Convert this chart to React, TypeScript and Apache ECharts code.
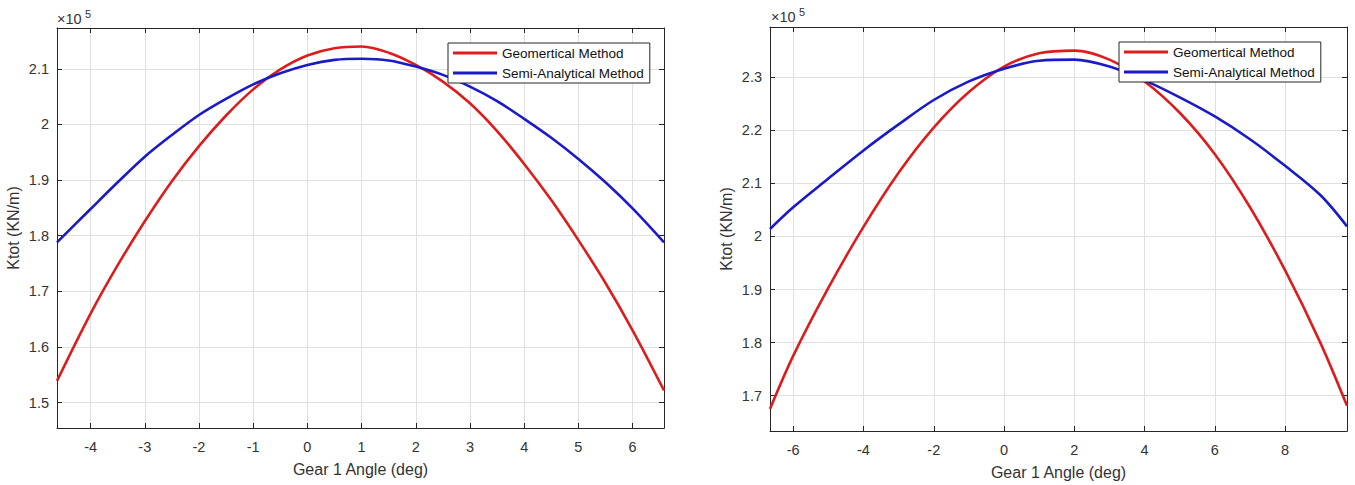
import React, { useEffect, useRef } from "react";
import * as echarts from "echarts";

// Values of Ktot are in units of 10^5 KN/m (as labelled on the axes)
const angleLeft = [-4.62, -4, -3.5, -3, -2.5, -2, -1.5, -1, -0.5, 0, 0.5, 1, 1.5, 2, 2.5, 3, 3.5, 4, 4.5, 5, 5.5, 6, 6.58];
const geomLeft = [1.539, 1.66, 1.747, 1.826, 1.898, 1.961, 2.016, 2.063, 2.099, 2.124, 2.137, 2.14, 2.129, 2.107, 2.077, 2.038, 1.988, 1.929, 1.864, 1.792, 1.715, 1.63, 1.522];
const semiLeft = [1.788, 1.848, 1.896, 1.942, 1.981, 2.017, 2.046, 2.072, 2.092, 2.107, 2.116, 2.118, 2.115, 2.104, 2.089, 2.068, 2.042, 2.01, 1.976, 1.938, 1.896, 1.849, 1.788];

const angleRight = [-6.66, -6, -5, -4, -3, -2, -1, 0, 1, 2, 3, 4, 5, 6, 7, 8, 9, 9.76];
const geomRight = [1.675, 1.775, 1.903, 2.018, 2.12, 2.205, 2.272, 2.32, 2.345, 2.35, 2.333, 2.292, 2.233, 2.155, 2.055, 1.936, 1.8, 1.681];
const semiRight = [2.014, 2.055, 2.109, 2.162, 2.211, 2.257, 2.292, 2.316, 2.331, 2.333, 2.32, 2.294, 2.262, 2.226, 2.183, 2.133, 2.078, 2.019];

const seriesNames = ["Geomertical Method", "Semi-Analytical Method"];
const xTitle = "Gear 1 Angle (deg)";
const yTitle = "Ktot (KN/m)";
const exponentBase = "\u00d710";
const exponentPower = "5";

const AXIS_COLOR = "#262626";
const LABEL_COLOR = "#333333";
const GRID_COLOR = "#e0e0e0";
const RED = "#dd1c1c";
const BLUE = "#1a1ac8";
const FONT = "'Liberation Sans', Arial, Helvetica, sans-serif";

const pairs = (xs: number[], ys: number[]) => xs.map((x, i) => [x, ys[i]]);

function xAxisBottom(gridIndex: number, min: number, max: number, splitNumber: number) {
  return {
    type: "value",
    gridIndex,
    position: "bottom",
    min,
    max,
    splitNumber,
    name: xTitle,
    nameLocation: "middle",
    nameGap: 33,
    nameTextStyle: { fontFamily: FONT, fontSize: 16, color: LABEL_COLOR },
    axisLine: { show: true, onZero: false, lineStyle: { color: AXIS_COLOR, width: 1 } },
    axisTick: { show: true, inside: true, length: 5, lineStyle: { color: AXIS_COLOR } },
    axisLabel: {
      fontFamily: FONT,
      fontSize: 14.5,
      color: LABEL_COLOR,
      margin: 11,
      showMinLabel: false,
      showMaxLabel: false,
    },
    splitLine: { show: true, lineStyle: { color: GRID_COLOR, width: 1 } },
  };
}

function xAxisTop(gridIndex: number, min: number, max: number, splitNumber: number) {
  return {
    type: "value",
    gridIndex,
    position: "top",
    min,
    max,
    splitNumber,
    axisLine: { show: true, onZero: false, lineStyle: { color: AXIS_COLOR, width: 1 } },
    axisTick: { show: true, inside: true, length: 5, lineStyle: { color: AXIS_COLOR } },
    axisLabel: { show: false },
    splitLine: { show: false },
  };
}

function yAxisLeft(gridIndex: number, min: number, max: number, splitNumber: number) {
  return {
    type: "value",
    gridIndex,
    position: "left",
    min,
    max,
    splitNumber,
    name: yTitle,
    nameLocation: "middle",
    nameGap: 36,
    nameRotate: 90,
    nameTextStyle: { fontFamily: FONT, fontSize: 16, color: LABEL_COLOR },
    axisLine: { show: true, onZero: false, lineStyle: { color: AXIS_COLOR, width: 1 } },
    axisTick: { show: true, inside: true, length: 5, lineStyle: { color: AXIS_COLOR } },
    axisLabel: {
      fontFamily: FONT,
      fontSize: 14.5,
      color: LABEL_COLOR,
      margin: 8,
      showMinLabel: false,
      showMaxLabel: false,
    },
    splitLine: { show: true, lineStyle: { color: GRID_COLOR, width: 1 } },
  };
}

function yAxisRight(gridIndex: number, min: number, max: number, splitNumber: number) {
  return {
    type: "value",
    gridIndex,
    position: "right",
    min,
    max,
    splitNumber,
    axisLine: { show: true, onZero: false, lineStyle: { color: AXIS_COLOR, width: 1 } },
    axisTick: { show: true, inside: true, length: 5, lineStyle: { color: AXIS_COLOR } },
    axisLabel: { show: false },
    splitLine: { show: false },
  };
}

function legendAt(left: number, top: number) {
  return {
    orient: "vertical",
    left,
    top,
    data: seriesNames,
    selectedMode: false,
    icon: "rect",
    itemWidth: 44,
    itemHeight: 3,
    itemGap: 6,
    padding: [3, 6, 3, 5],
    borderColor: AXIS_COLOR,
    borderWidth: 1,
    borderRadius: 0,
    backgroundColor: "#ffffff",
    textStyle: { fontFamily: FONT, fontSize: 13.5, color: "#111111" },
  };
}

function lineSeries(name: string, color: string, idx: number, xs: number[], ys: number[]) {
  return {
    type: "line",
    name,
    xAxisIndex: idx,
    yAxisIndex: idx,
    data: pairs(xs, ys),
    smooth: 0.33,
    symbol: "none",
    lineStyle: { color, width: 2.6 },
    itemStyle: { color },
    z: 3,
  };
}

function exponentLabel(x: number, y: number) {
  return [
    {
      type: "text",
      x,
      y,
      style: {
        text: exponentBase,
        fontFamily: FONT,
        fontSize: 14.5,
        fill: LABEL_COLOR,
        verticalAlign: "middle",
        align: "left",
      },
    },
    {
      type: "text",
      x: x + 28,
      y: y - 5,
      style: {
        text: exponentPower,
        fontFamily: FONT,
        fontSize: 11,
        fill: LABEL_COLOR,
        verticalAlign: "middle",
        align: "left",
      },
    },
  ];
}

export default function App() {
  const ref = useRef<HTMLDivElement>(null);

  useEffect(() => {
    if (!ref.current) return;
    const chart = echarts.init(ref.current, undefined, { renderer: "svg" });
    chart.setOption({
      animation: false,
      backgroundColor: "#ffffff",
      grid: [
        { left: 57, top: 28, width: 607, height: 400, containLabel: false },
        { left: 770, top: 27, width: 577, height: 405, containLabel: false },
      ],
      xAxis: [
        xAxisBottom(0, -4.62, 6.58, 11),
        xAxisTop(0, -4.62, 6.58, 11),
        xAxisBottom(1, -6.66, 9.76, 8),
        xAxisTop(1, -6.66, 9.76, 8),
      ],
      yAxis: [
        yAxisLeft(0, 1.4544, 2.1733, 7),
        yAxisRight(0, 1.4544, 2.1733, 7),
        yAxisLeft(1, 1.6336, 2.3945, 7),
        yAxisRight(1, 1.6336, 2.3945, 7),
      ],
      legend: [legendAt(448, 43), legendAt(1119, 42)],
      graphic: [...exponentLabel(57, 19), ...exponentLabel(771, 17)],
      series: [
        lineSeries(seriesNames[0], RED, 0, angleLeft, geomLeft),
        lineSeries(seriesNames[1], BLUE, 0, angleLeft, semiLeft),
        lineSeries(seriesNames[0], RED, 2, angleRight, geomRight),
        lineSeries(seriesNames[1], BLUE, 2, angleRight, semiRight),
      ],
    });
    return () => chart.dispose();
  }, []);

  return (
    <div
      ref={ref}
      style={{ position: "fixed", left: 0, top: 0, width: 1355, height: 485, background: "#ffffff" }}
    />
  );
}
